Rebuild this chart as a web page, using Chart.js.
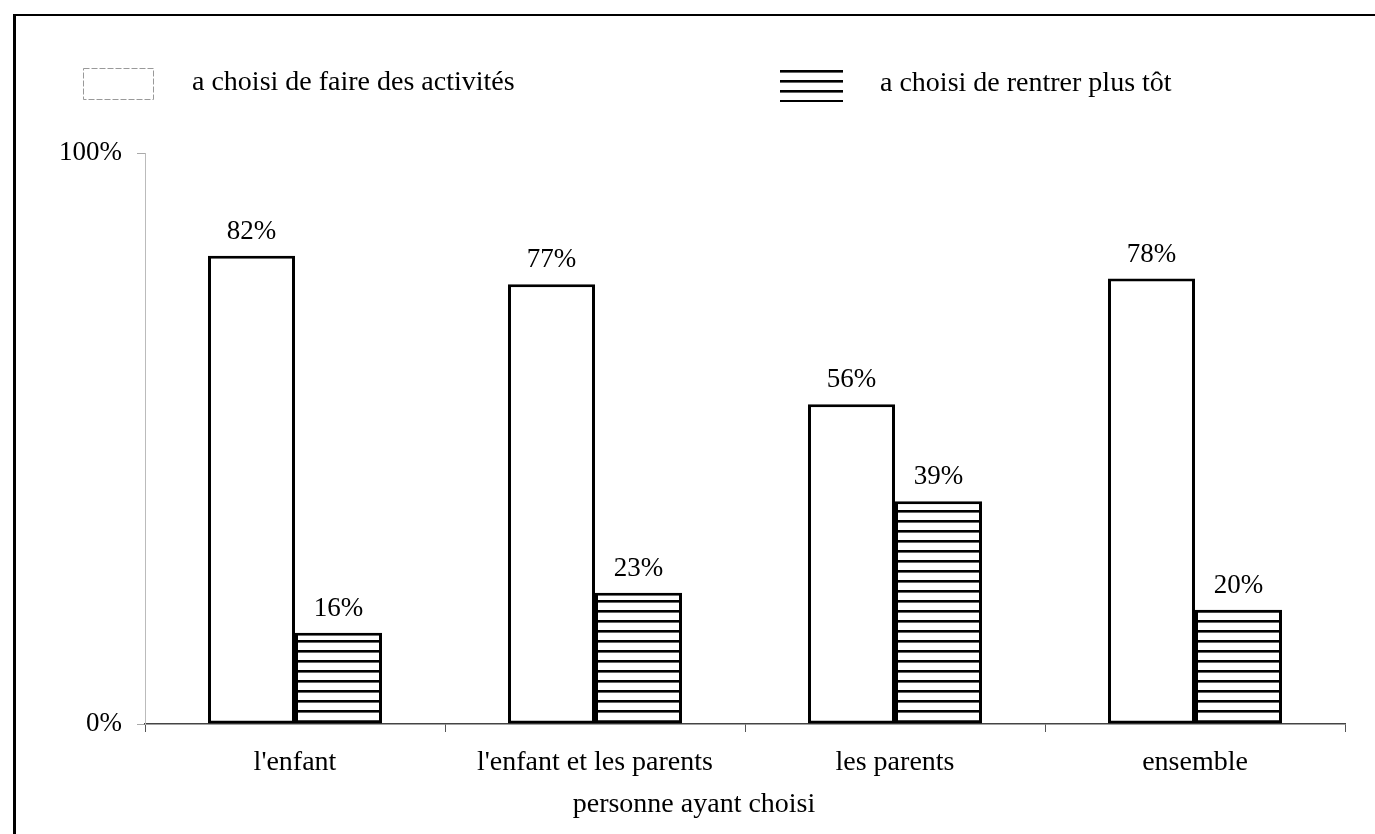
<!DOCTYPE html>
<html>
<head>
<meta charset="utf-8">
<script src="https://cdn.jsdelivr.net/npm/chart.js@4.4.0/dist/chart.umd.min.js"></script>
<style>
  html, body { margin: 0; padding: 0; background: #fff; }
  #wrap { width: 1375px; height: 834px; position: relative; }
</style>
</head>
<body>
<div id="wrap"><canvas id="chart"></canvas></div>
<script>
// data
const categories = ["l'enfant", "l'enfant et les parents", "les parents", "ensemble"];
const activites = [82, 77, 56, 78];
const rentrer = [16, 23, 39, 20];
const seriesLabels = ['a choisi de faire des activités', 'a choisi de rentrer plus tôt'];
const axisTitle = 'personne ayant choisi';

const FONT = '"Liberation Serif", "Times New Roman", serif';

// horizontal hatch used by the second series
function makeHatch() {
    const c = document.createElement('canvas');
    c.width = 10;
    c.height = 10;
    const g = c.getContext('2d');
    g.fillStyle = '#fff';
    g.fillRect(0, 0, 10, 10);
    g.fillStyle = '#000';
    g.fillRect(0, 0, 10, 2.6);
    return g.createPattern(c, 'repeat');
}
const hatch = makeHatch();

// white page with the thick frame on the left and top
const framePlugin = {
    id: 'frame',
    beforeDraw(chart) {
        const ctx = chart.ctx;
        ctx.save();
        ctx.fillStyle = '#fff';
        ctx.fillRect(0, 0, chart.width, chart.height);
        ctx.strokeStyle = '#000';
        ctx.lineWidth = 3;
        ctx.beginPath();
        ctx.moveTo(14.5, chart.height);
        ctx.lineTo(14.5, 14);
        ctx.stroke();
        ctx.lineWidth = 2;
        ctx.beginPath();
        ctx.moveTo(13, 15);
        ctx.lineTo(chart.width, 15);
        ctx.stroke();
        ctx.restore();
    }
};

// legend drawn by hand to keep the two items where they are in the picture
const legendPlugin = {
    id: 'handLegend',
    afterDraw(chart, args, opts) {
        const ctx = chart.ctx;
        ctx.save();
        ctx.font = '28px ' + FONT;
        ctx.textBaseline = 'middle';
        chart.data.datasets.forEach((ds, i) => {
            const p = opts.items[i];
            ctx.fillStyle = ds.backgroundColor;
            ctx.fillRect(p.x, p.y, p.w, p.h);
            if (i === 0) {
                ctx.strokeStyle = '#999';
                ctx.lineWidth = 1;
                ctx.setLineDash([6, 2]);
                ctx.strokeRect(p.x + 0.5, p.y + 0.5, p.w, p.h);
                ctx.setLineDash([]);
            }
            ctx.fillStyle = '#000';
            ctx.fillText(ds.label, p.tx, p.y + 15);
        });
        ctx.restore();
    }
};

// value labels over the bars and the x axis title
const labelPlugin = {
    id: 'barLabels',
    afterDatasetsDraw(chart) {
        const ctx = chart.ctx;
        ctx.save();
        ctx.font = '27px ' + FONT;
        ctx.fillStyle = '#000';
        ctx.textAlign = 'center';
        ctx.textBaseline = 'alphabetic';
        chart.data.datasets.forEach((ds, i) => {
            chart.getDatasetMeta(i).data.forEach((bar, j) => {
                ctx.fillText(ds.data[j] + '%', bar.x, bar.y - 17);
            });
        });
        ctx.font = '28px ' + FONT;
        ctx.textBaseline = 'middle';
        ctx.fillText(axisTitle, 694, 805);
        ctx.restore();
    }
};

new Chart(document.getElementById('chart'), {
    type: 'bar',
    data: {
        labels: categories,
        datasets: [
            {
                label: seriesLabels[0],
                data: activites,
                backgroundColor: '#fff',
                borderColor: '#000',
                borderWidth: 3,
                borderSkipped: false,
            },
            {
                label: seriesLabels[1],
                data: rentrer,
                backgroundColor: hatch,
                borderColor: '#000',
                borderWidth: 3,
                borderSkipped: false,
            },
        ],
    },
    options: {
        responsive: true,
        maintainAspectRatio: false,
        animation: false,
        categoryPercentage: 0.58,
        barPercentage: 1,
        layout: {
            padding: { top: 153, right: 30, bottom: 0, left: 0 },
        },
        plugins: {
            legend: { display: false },
            tooltip: { enabled: false },
            handLegend: {
                items: [
                    { x: 83, y: 68, w: 70, h: 31, tx: 192 },
                    { x: 780, y: 69, w: 63, h: 33, tx: 880 },
                ],
            },
        },
        scales: {
            x: {
                afterFit: (scale) => { scale.height = 110; },
                grid: {
                    offset: true,
                    drawOnChartArea: false,
                    drawTicks: true,
                    tickLength: 8,
                    color: '#555',
                },
                border: { color: '#444', width: 1.5 },
                ticks: {
                    color: '#000',
                    padding: 14,
                    font: { family: FONT, size: 28 },
                },
            },
            y: {
                min: 0,
                max: 100,
                afterFit: (scale) => { scale.width = 145; },
                grid: {
                    drawOnChartArea: false,
                    tickLength: 8,
                    color: '#aaa',
                },
                border: { color: '#bbb', width: 1, dash: [8, 2] },
                ticks: {
                    stepSize: 100,
                    color: '#000',
                    padding: 15,
                    font: { family: FONT, size: 27 },
                    callback: (v) => v + '%',
                },
            },
        },
    },
    plugins: [framePlugin, legendPlugin, labelPlugin],
});
</script>
</body>
</html>
